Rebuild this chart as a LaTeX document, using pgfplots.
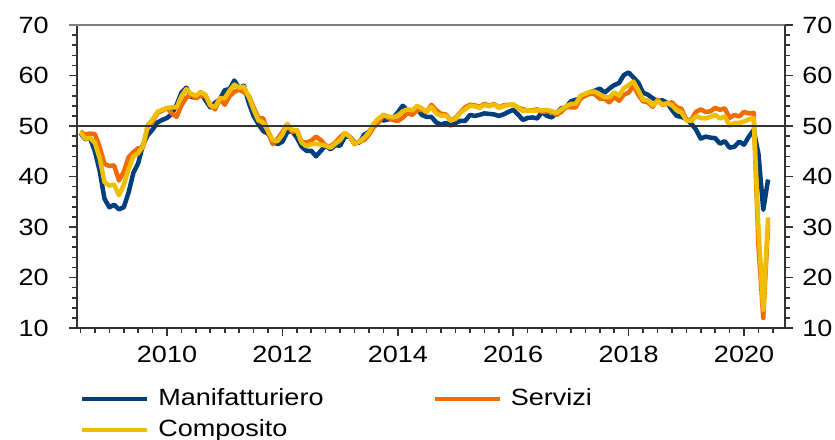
\documentclass[border=0pt]{standalone}
\usepackage{fontspec}
\setmainfont[FakeStretch=1.15]{Liberation Sans}
\usepackage{pgfplots}
\pgfplotsset{compat=1.18}
\usepackage{pgfplotstable}
\definecolor{cblue}{HTML}{003E7E}
\definecolor{corange}{HTML}{F06C00}
\definecolor{cyellow}{HTML}{F0BE00}
\definecolor{caxis}{HTML}{333333}

\pgfplotstableread{
y m man ser comp
2008 6 48.6 48.9 48.8
2008 7 47.4 48.3 47.5
2008 8 47.6 48.5 47.6
2008 9 45.0 48.4 46.7
2008 10 41.1 45.8 43.6
2008 11 35.6 42.5 38.9
2008 12 33.9 42.1 38.2
2009 1 34.4 42.2 38.4
2009 2 33.5 39.2 36.3
2009 3 33.9 40.9 38.3
2009 4 36.8 43.8 41.4
2009 5 40.7 44.8 44.0
2009 6 42.6 45.6 44.6
2009 7 46.3 45.7 46.0
2009 8 48.2 49.9 50.2
2009 9 49.3 50.9 51.3
2009 10 50.7 52.6 52.8
2009 11 51.2 53.0 53.2
2009 12 51.6 53.6 53.6
2010 1 52.4 52.5 53.7
2010 2 54.2 51.8 53.7
2010 3 56.6 54.1 55.9
2010 4 57.6 55.6 57.3
2010 5 55.8 56.2 56.4
2010 6 55.6 55.5 56.0
2010 7 56.7 56.0 56.7
2010 8 55.1 55.9 56.2
2010 9 53.7 54.1 54.1
2010 10 54.6 53.3 53.8
2010 11 55.3 55.4 55.5
2010 12 57.1 54.2 55.5
2011 1 57.3 55.9 57.0
2011 2 59.0 56.8 58.2
2011 3 57.5 57.2 57.6
2011 4 58.0 56.7 57.8
2011 5 54.6 56.0 55.8
2011 6 52.0 53.7 53.3
2011 7 50.4 51.6 51.1
2011 8 49.0 51.5 50.7
2011 9 48.5 48.8 49.1
2011 10 47.1 46.4 47.2
2011 11 46.4 47.5 47.0
2011 12 46.9 48.8 48.3
2012 1 48.8 50.4 50.4
2012 2 49.0 48.8 49.3
2012 3 47.7 49.2 49.1
2012 4 45.9 46.9 46.7
2012 5 45.1 46.7 46.0
2012 6 45.1 47.1 46.4
2012 7 44.0 47.9 46.5
2012 8 45.1 47.2 46.3
2012 9 46.1 46.1 46.1
2012 10 45.4 46.0 45.7
2012 11 46.2 46.7 46.5
2012 12 46.1 47.8 47.2
2013 1 47.9 48.6 48.6
2013 2 47.9 47.9 47.9
2013 3 46.8 46.4 46.5
2013 4 46.7 47.0 46.9
2013 5 48.3 47.2 47.7
2013 6 48.8 48.3 48.7
2013 7 50.3 49.8 50.5
2013 8 51.4 50.7 51.5
2013 9 51.1 52.2 52.2
2013 10 51.3 51.6 51.9
2013 11 51.6 51.2 51.7
2013 12 52.7 51.0 52.1
2014 1 54.0 51.6 52.9
2014 2 53.2 52.6 53.3
2014 3 53.0 52.2 53.1
2014 4 53.4 53.1 54.0
2014 5 52.2 53.2 53.5
2014 6 51.8 52.8 52.8
2014 7 51.8 54.2 53.8
2014 8 50.7 53.1 52.5
2014 9 50.3 52.4 52.0
2014 10 50.6 52.3 52.1
2014 11 50.1 51.1 51.1
2014 12 50.6 51.6 51.4
2015 1 51.0 52.7 52.6
2015 2 51.0 53.7 53.3
2015 3 52.2 54.2 54.0
2015 4 52.0 54.1 53.9
2015 5 52.2 53.8 53.6
2015 6 52.5 54.4 54.2
2015 7 52.4 54.0 53.9
2015 8 52.3 54.4 54.3
2015 9 52.0 53.7 53.6
2015 10 52.3 54.1 53.9
2015 11 52.8 54.2 54.2
2015 12 53.2 54.2 54.3
2016 1 52.3 53.6 53.6
2016 2 51.2 53.3 53.0
2016 3 51.6 53.1 53.1
2016 4 51.7 53.1 53.0
2016 5 51.5 53.3 53.1
2016 6 52.8 52.8 53.1
2016 7 52.0 52.9 53.2
2016 8 51.7 52.8 52.9
2016 9 52.6 52.2 52.6
2016 10 53.5 52.8 53.3
2016 11 53.7 53.8 53.9
2016 12 54.9 53.7 54.4
2017 1 55.2 53.7 54.4
2017 2 55.4 55.5 56.0
2017 3 56.2 56.0 56.4
2017 4 56.7 56.4 56.8
2017 5 57.0 56.3 56.8
2017 6 57.4 55.4 56.3
2017 7 56.6 55.4 55.7
2017 8 57.4 54.7 55.7
2017 9 58.1 55.8 56.7
2017 10 58.5 55.0 56.0
2017 11 60.1 56.2 57.5
2017 12 60.6 56.6 58.1
2018 1 59.6 58.0 58.8
2018 2 58.6 56.2 57.1
2018 3 56.6 54.9 55.2
2018 4 56.2 54.7 55.1
2018 5 55.5 53.8 54.1
2018 6 54.9 55.2 54.9
2018 7 55.1 54.2 54.3
2018 8 54.6 54.4 54.5
2018 9 53.2 54.7 54.1
2018 10 52.0 53.7 53.1
2018 11 51.8 53.4 52.7
2018 12 51.4 51.2 51.1
2019 1 50.5 51.2 51.0
2019 2 49.3 52.8 51.9
2019 3 47.5 53.3 51.6
2019 4 47.9 52.8 51.5
2019 5 47.7 52.9 51.8
2019 6 47.6 53.6 52.2
2019 7 46.5 53.2 51.5
2019 8 47.0 53.5 51.9
2019 9 45.7 51.6 50.1
2019 10 45.9 52.2 50.6
2019 11 46.9 51.9 50.6
2019 12 46.3 52.8 50.9
2020 1 47.9 52.5 51.3
2020 2 49.2 52.6 51.6
2020 3 44.5 26.4 29.7
2020 4 33.4 12.0 13.6
2020 5 39.4 30.5 31.9
}\pmidata

\pgfplotsset{
  base/.style={
    scale only axis, width=354bp, height=151.5bp,
    xmin=2008.44, xmax=2020.71, ymin=10, ymax=70,
    ytick={10,20,...,70}, minor ytick={12,14,...,68},
    tick align=outside, major tick length=4bp, minor tick length=2.5bp,
    every tick/.style={caxis, line width=0.8bp},
    axis line style={caxis, line width=0.9bp, -},
    /pgf/number format/assume math mode=true,
    /pgf/number format/1000 sep={},
    tick label style={font=\fontsize{11.75bp}{14bp}\selectfont, text=black},
    clip=false,
  },
}

\begin{document}
\fontsize{11.75bp}{14bp}\selectfont
\begin{tikzpicture}
\useasboundingbox (-38.5bp,-56bp) rectangle (379bp,164bp);
\begin{axis}[base,
  axis x line*=bottom, axis y line*=left,
  xtick={2010,2012,...,2020},
  minor xtick={2008.5,2008.75,...,2020.6},
  xticklabel style={anchor=north, inner sep=0pt, yshift=-5bp},
  yticklabel style={anchor=east, inner sep=0pt, xshift=-10bp},
  legend columns=2,
  legend style={at={(axis description cs:0.004,-0.20)}, anchor=north west,
    draw=none, fill=none, inner sep=0pt, outer sep=0pt,
    row sep=5bp, column sep=0pt,
    nodes={inner sep=0pt, anchor=base west, font=\fontsize{11.75bp}{14bp}\selectfont},
    /tikz/every odd column/.style={column sep=4.5bp}},
  legend image code/.code={\draw[#1, line width=2.25bp] (0bp,3.2bp) -- (32.5bp,3.2bp);},
]
\addplot[cblue, line width=2.25bp, line join=round] table[x expr=\thisrow{y}+\thisrow{m}/12, y=man] {\pmidata};
\addlegendentry{\makebox[137bp][l]{Manifatturiero}}
\addplot[corange, line width=2.25bp, line join=round] table[x expr=\thisrow{y}+\thisrow{m}/12, y=ser] {\pmidata};
\addlegendentry{Servizi}
\addplot[cyellow, line width=2.25bp, line join=round] table[x expr=\thisrow{y}+\thisrow{m}/12, y=comp] {\pmidata};
\addlegendentry{Composito}
\draw[caxis, line width=0.6bp] (axis cs:2008.44,50) -- (axis cs:2020.71,50);
\draw[gray, line width=0.6bp] ([xshift=-4bp]rel axis cs:0,1) -- ([xshift=2.5bp]rel axis cs:1,1);
\end{axis}
\begin{axis}[base,
  axis y line*=right, axis x line=none,
  yticklabel style={anchor=west, inner sep=0pt, xshift=4.5bp},
]
\end{axis}
\end{tikzpicture}
\end{document}
